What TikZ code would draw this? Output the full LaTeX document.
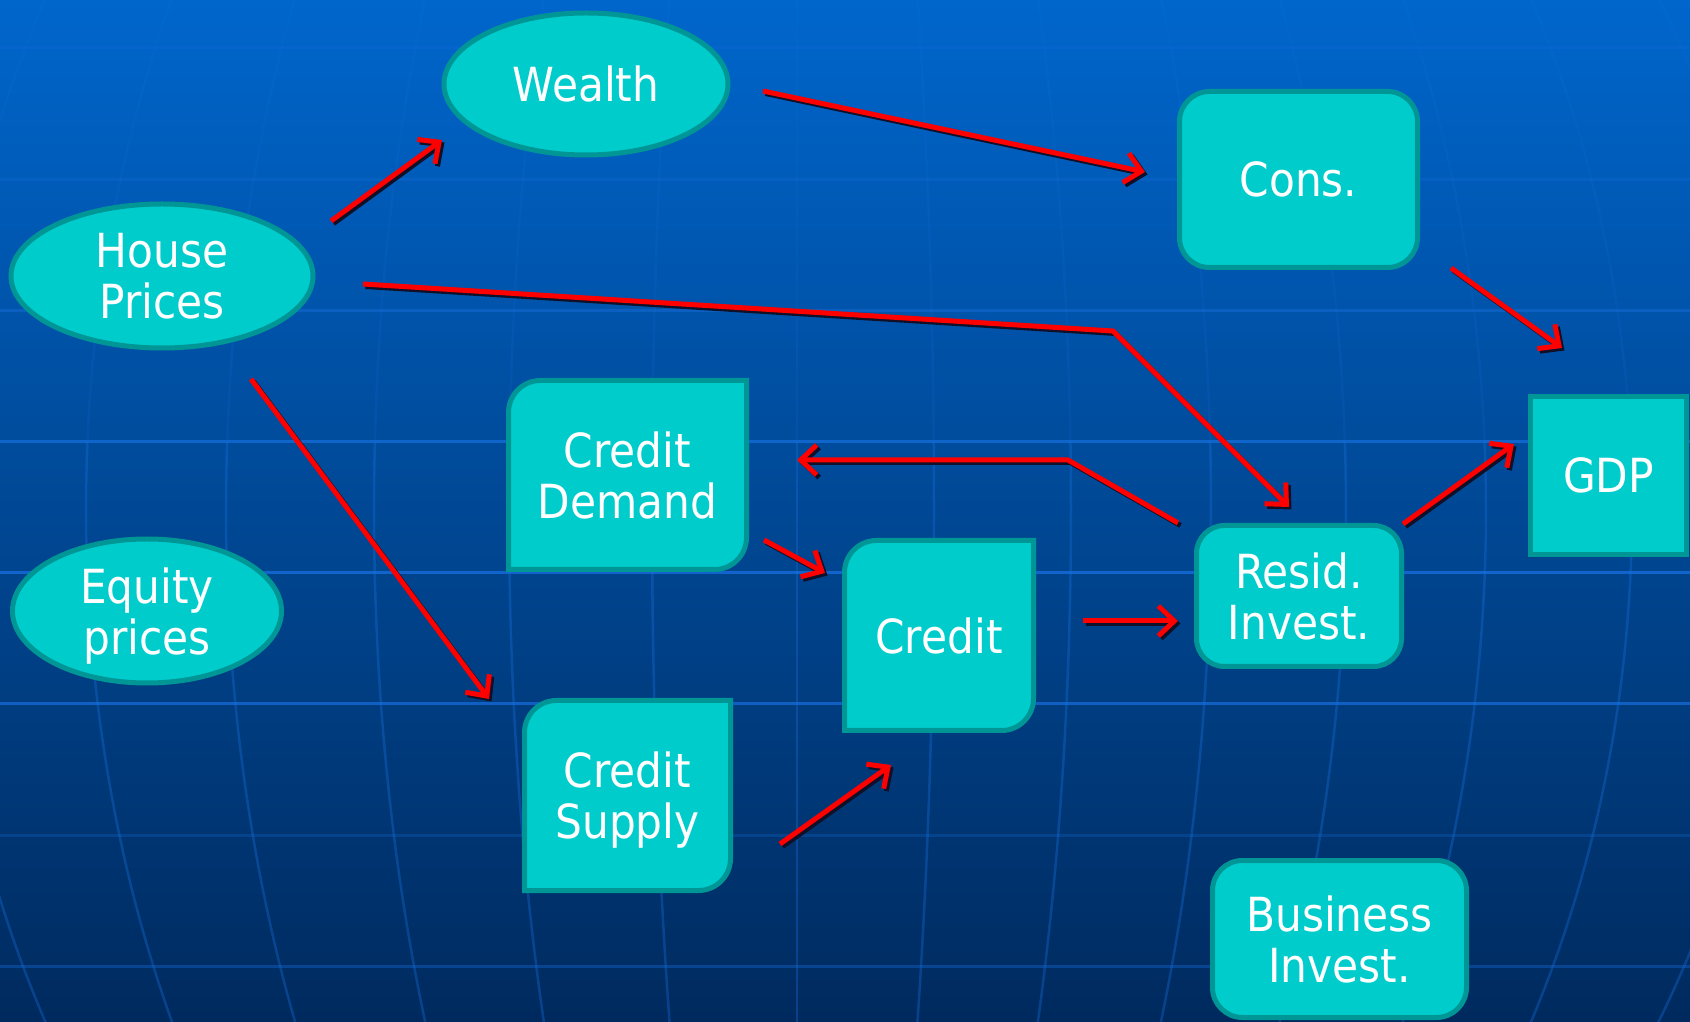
\documentclass[tikz,border=0pt]{standalone}
\usepackage{fontspec}
\setmainfont{DejaVu Sans}[FakeStretch=0.9]
\usetikzlibrary{arrows.meta,shapes.geometric}

\definecolor{skytop}{RGB}{0,102,204}
\definecolor{skymid}{RGB}{0,76,160}
\definecolor{skybottom}{RGB}{0,42,94}
\definecolor{gridblue}{RGB}{24,112,224}
\definecolor{boxfill}{RGB}{0,204,204}
\definecolor{boxedge}{RGB}{0,150,150}
\definecolor{linkred}{RGB}{255,0,0}
\definecolor{linkshade}{RGB}{16,16,40}

\pgfdeclarelayer{sky}
\pgfdeclarelayer{boxes}
\pgfsetlayers{sky,boxes,main}

% outline of a box rounded at its top-left and bottom-right corners only
\newcommand\halfround[2]{%
  \begin{pgfonlayer}{boxes}
    \path[boxshape] (#1.south west) -- ([yshift=-#2]#1.north west)
      arc[start angle=180,end angle=90,radius=#2] -- (#1.north east)
      -- ([yshift=#2]#1.south east)
      arc[start angle=0,end angle=-90,radius=#2] -- cycle;
  \end{pgfonlayer}}

\tikzset{
  labeltext/.style={text=white, align=center, inner sep=0pt, outer sep=0pt},
  oval/.style={labeltext, ellipse, draw=boxedge, fill=boxfill, line width=5pt},
  rbox/.style={labeltext, rectangle, draw=boxedge, fill=boxfill, line width=5pt, rounded corners=#1},
  hbox/.style={labeltext, rectangle},
  boxshape/.style={draw=boxedge, fill=boxfill, line width=5pt},
  tip/.style={-{Straight Barb[length=16pt,width=30pt]}},
  link/.style={draw=linkred, line width=5pt, tip, line join=miter,
    preaction={draw=linkshade, line width=5pt, tip, line join=miter,
      transform canvas={shift={(2.5pt,-2.5pt)}}}},
  hline/.style={draw=gridblue, line width=3pt, opacity=#1},
  meridian/.style={draw=gridblue, line width=2.5pt, opacity=#1},
}

\begin{document}
\begin{tikzpicture}[x=1pt, y=1pt, font=\fontsize{47}{51}\selectfont]
\useasboundingbox (0,0) rectangle (1690,1021);

% backdrop: blue gradient with a globe-like grid
\begin{pgfonlayer}{sky}
  \shade[top color=skytop, middle color=skymid, bottom color=skybottom]
    (0,0) rectangle (1690,1021);
  \begin{scope}
    \clip (0,0) rectangle (1690,1021);
    \foreach \d in {-855,-711,-571,-423,-288,-145,0,137,274,414,549,689,835,980} {
      \draw[meridian=0.14] plot[domain=-29:-3.6, samples=30, smooth, variable=\t]
        ({797+\d*cos(\t)}, {511-1074*sin(\t)});
      \draw[meridian=0.34] plot[domain=-3.6:29, samples=30, smooth, variable=\t]
        ({797+\d*cos(\t)}, {511-1074*sin(\t)});
    }
    \foreach \y/\o in {973/0.22, 841/0.28, 710/0.42, 579/0.7, 448/0.75, 317/0.7, 186/0.25, 55/0.35}
      \draw[hline=\o] (0,\y) -- (1690,\y);
  \end{scope}
\end{pgfonlayer}

% nodes
\node[oval, minimum width=284pt, minimum height=142pt] (wealth) at (586,937) {Wealth};
\node[oval, minimum width=302pt, minimum height=144pt] (house) at (162,745) {House\\Prices};
\node[oval, minimum width=269pt, minimum height=144pt, text depth=0pt] (equity) at (147,410) {Equity\\prices};
\node[rbox=30pt, minimum width=238pt, minimum height=176pt] (cons) at (1298.5,841.5) {Cons.};
\node[rbox=0pt, minimum width=156pt, minimum height=158pt] (gdp) at (1608.5,545.5) {GDP};
\node[rbox=28pt, minimum width=205pt, minimum height=141pt] (resid) at (1299,425) {Resid.\\Invest.};
\node[rbox=30pt, minimum width=254pt, minimum height=157pt] (business) at (1339.5,82) {Business\\Invest.};
\node[hbox, minimum width=238pt, minimum height=189pt] (cdemand) at (627.5,546) {Credit\\Demand};
\node[hbox, minimum width=189pt, minimum height=190pt] (credit) at (939,385.5) {Credit};
\node[hbox, minimum width=206pt, minimum height=190pt, text depth=0pt] (csupply) at (627.5,225.5) {Credit\\Supply};
\halfround{cdemand}{32pt}
\halfround{credit}{32pt}
\halfround{csupply}{32pt}

% free ends of the connectors
\coordinate (house-w) at (331,800);   \coordinate (wealth-in) at (442,881);
\coordinate (wealth-c) at (763,930);  \coordinate (cons-in) at (1145,849);
\coordinate (house-r) at (363,737);   \coordinate (bend-r) at (1113,690);
\coordinate (resid-in) at (1289,514);
\coordinate (house-s) at (251,642);   \coordinate (csupply-in) at (489,322);
\coordinate (resid-d) at (1178,498);  \coordinate (bend-d) at (1068,561);
\coordinate (cdemand-in) at (797,561);
\coordinate (cdemand-c) at (764,481); \coordinate (credit-in1) at (825,448);
\coordinate (credit-r) at (1083,400); \coordinate (resid-in2) at (1178,400);
\coordinate (csupply-c) at (780,177); \coordinate (credit-in2) at (891,256);
\coordinate (cons-g) at (1451,753);   \coordinate (gdp-in1) at (1562,673);
\coordinate (resid-g) at (1403,497);  \coordinate (gdp-in2) at (1514,577);

% connectors
\draw[link] (house-w) -- (wealth-in);
\draw[link] (wealth-c) -- (cons-in);
\draw[link] (house-r) -- (bend-r) -- (resid-in);
\draw[link] (house-s) -- (csupply-in);
\draw[link] (resid-d) -- (bend-d) -- (cdemand-in);
\draw[link] (cdemand-c) -- (credit-in1);
\draw[link] (credit-r) -- (resid-in2);
\draw[link] (csupply-c) -- (credit-in2);
\draw[link] (cons-g) -- (gdp-in1);
\draw[link] (resid-g) -- (gdp-in2);
\end{tikzpicture}
\end{document}
